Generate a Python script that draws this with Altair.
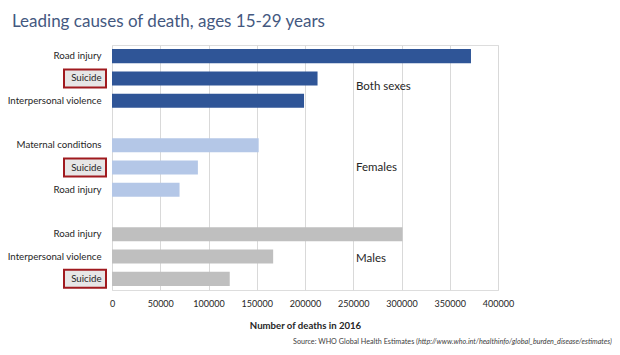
import altair as alt
import pandas as pd

# ---- data ----
groups = ["Both sexes", "Females", "Males"]
causes_both = ["Road injury", "Suicide", "Interpersonal violence"]
deaths_both = [372000, 213000, 199000]
causes_female = ["Maternal conditions", "Suicide", "Road injury"]
deaths_female = [152000, 89000, 70000]
causes_male = ["Road injury", "Interpersonal violence", "Suicide"]
deaths_male = [301000, 167000, 122000]
x_ticks = [0, 50000, 100000, 150000, 200000, 250000, 300000, 350000, 400000]

title_text = "Leading causes of death, ages 15-29 years"
x_title = "Number of deaths in 2016"
source_plain = "Source: WHO Global Health Estimates ("
source_url = "http://www.who.int/healthinfo/global_burden_disease/estimates)"

group_colors = ["#2F5597", "#B4C7E7", "#BFBFBF"]
FONT = "Lato"

# ---- build table: 3 rows per group with a blank row between groups ----
rows = []
labels = []
for gi, (g, cs, ds) in enumerate(zip(groups,
                                      [causes_both, causes_female, causes_male],
                                      [deaths_both, deaths_female, deaths_male])):
    for c, d in zip(cs, ds):
        rows.append({"row": len(labels), "group": g, "cause": c, "deaths": d})
        labels.append(c)
    if gi < len(groups) - 1:
        labels.append("")
df = pd.DataFrame(rows)
n_rows = len(labels)

label_js = "[" + ",".join("'" + l + "'" for l in labels) + "]"

y_enc = alt.Y(
    "row:O",
    scale=alt.Scale(domain=list(range(n_rows)), paddingInner=0.37, paddingOuter=0.185),
    axis=alt.Axis(
        title=None, domain=False, ticks=False, labelPadding=11,
        labelExpr=label_js + "[datum.value]",
        labelFont=FONT, labelFontSize=9.7, labelColor="#262626", zindex=2,
    ),
)
x_enc = alt.X(
    "deaths:Q",
    scale=alt.Scale(domain=[0, 400000], nice=False),
    axis=alt.Axis(
        values=x_ticks, format="d", domain=False, ticks=False, grid=True,
        gridColor="#D9D9D9", gridWidth=1, labelPadding=9, labelOverlap=False,
        labelFlush=False,
        labelFont=FONT, labelFontSize=9, labelColor="#262626",
        title=x_title, titleFont=FONT, titleFontSize=9.6, titleFontWeight="bold",
        titleColor="#262626", titlePadding=12, zindex=0,
    ),
)

base = alt.Chart(df)

bars = base.mark_bar().encode(
    x=x_enc,
    y=y_enc,
    color=alt.Color("group:N", scale=alt.Scale(domain=groups, range=group_colors), legend=None),
)

boxes = base.transform_filter(alt.datum.cause == "Suicide").mark_bar(
    height=18, fill="#E7E6E6", stroke="#A01A1F", strokeWidth=2
).encode(
    x=alt.value(-48), x2=alt.value(-6), y=y_enc,
)

group_mid = pd.DataFrame({"group": groups,
                          "row": [df[df.group == g].row.median() for g in groups]})
group_dy = [9, 0, 2]
group_layers = []
for g, dy in zip(groups, group_dy):
    group_layers.append(
        alt.Chart(group_mid[group_mid.group == g]).mark_text(
            align="left", baseline="middle", font=FONT, fontSize=11.5, color="#262626", dy=dy
        ).encode(x=alt.value(244), y=alt.Y("row:O"), text="group:N")
    )

title = alt.Chart(pd.DataFrame({"t": [title_text]})).mark_text(
    align="left", baseline="alphabetic", font=FONT, fontSize=17, color="#44587F"
).encode(x=alt.value(-100), y=alt.value(-18), text="t:N")

src1 = alt.Chart(pd.DataFrame({"t": [source_plain]})).mark_text(
    align="right", baseline="alphabetic", font=FONT, fontSize=7.2, color="#404040"
).encode(x=alt.value(306), y=alt.value(299), text="t:N")
src2 = alt.Chart(pd.DataFrame({"t": [source_url]})).mark_text(
    align="left", baseline="alphabetic", font=FONT, fontSize=7.2, color="#404040", fontStyle="italic"
).encode(x=alt.value(306), y=alt.value(299), text="t:N")

chart = alt.layer(bars, boxes, *group_layers, title, src1, src2).properties(
    width=386, height=245,
    autosize=alt.AutoSizeParams(type="none"),
    padding={"left": 104, "top": 37, "right": 114, "bottom": 57},
).configure_view(stroke=None).configure(background="white")

chart.save("out.html", embed_options={"renderer": "svg", "actions": False})
